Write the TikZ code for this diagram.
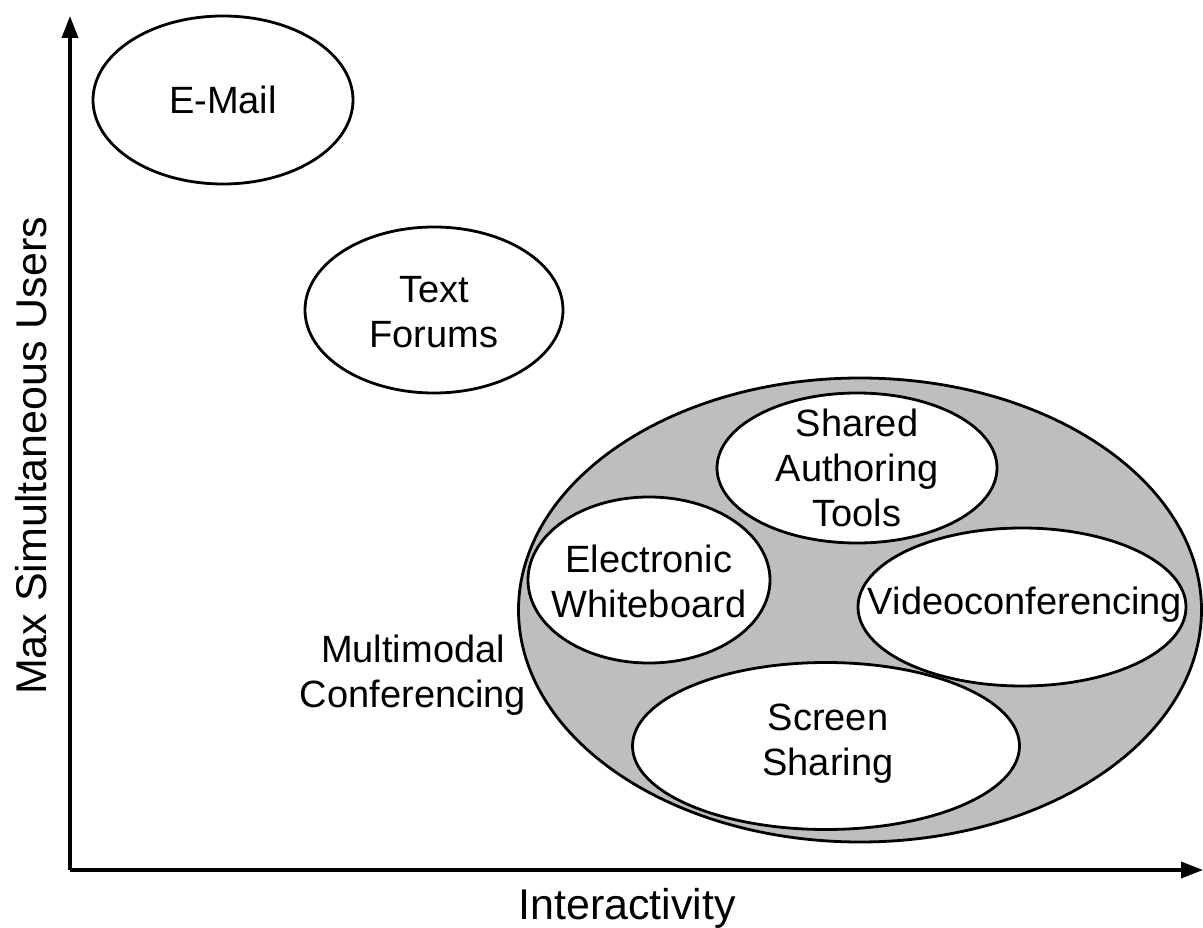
\documentclass[tikz,border=0pt]{standalone}
\usepackage{fontspec}
\setmainfont{Liberation Sans}
\usetikzlibrary{shapes.geometric,arrows.meta}
\tikzset{
  oval/.style={draw=black, line width=2.8pt, ellipse, inner sep=0pt, fill=white},
  axis/.style={line width=3.5pt, -{Triangle[length=22pt,width=16pt]}},
  lbl/.style={align=center, inner sep=0pt, font=\fontsize{38}{45}\selectfont},
  axlbl/.style={inner sep=0pt, font=\fontsize{43}{50}\selectfont}
}
\begin{document}
\begin{tikzpicture}[x=1pt,y=-1pt]
\useasboundingbox (0,0) rectangle (1203,928);
\coordinate (origin) at (70,870);
\coordinate (ytip) at (70,16);
\coordinate (xtip) at (1203,870);
\draw[axis] (origin) -- (ytip);
\draw[axis] (origin) -- (xtip);
\node[oval, minimum width=260pt, minimum height=168pt] (email) at (223,100) {};
\node[lbl] (emailtxt) at (email.center) {E-Mail};
\node[oval, minimum width=258pt, minimum height=166pt] (forums) at (434,310) {};
\node[lbl] (forumstxt) at (434,312) {Text\\Forums};
\node[oval, fill={rgb,255:red,190;green,190;blue,190}, minimum width=683pt, minimum height=464pt] (multi) at (860,610) {};
\node[oval, minimum width=280pt, minimum height=150pt] (shared) at (857,468) {};
\node[lbl] (sharedtxt) at (857,468) {Shared\\Authoring\\Tools};
\node[oval, minimum width=242pt, minimum height=166pt] (white) at (649,580) {};
\node[lbl] (whitetxt) at (649,581) {Electronic\\Whiteboard};
\node[oval, minimum width=328pt, minimum height=158pt] (video) at (1022,607) {};
\node[lbl] (videotxt) at (1025,605) {Videoconferencing};
\node[oval, minimum width=387pt, minimum height=167pt] (screen) at (826,746) {};
\node[lbl] (screentxt) at (828,744) {Screen\\Sharing};
\node[lbl] (multilbl) at (413,675) {Multimodal\\Conferencing};
\node[axlbl, rotate=90] (ylbl) at (31,456) {Max Simultaneous Users};
\node[axlbl] (xlbl) at (627,908) {Interactivity};
\end{tikzpicture}
\end{document}
